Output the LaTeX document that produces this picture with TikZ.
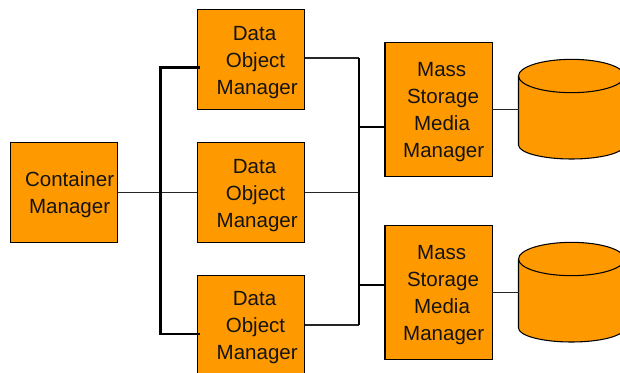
\documentclass[tikz,border=0pt]{standalone}
\usepackage{fontspec}
\setmainfont{Liberation Sans}
\definecolor{boxorange}{HTML}{FF9900}
\newcommand{\domtext}{Data\kern1.5pt\\Object\\\kern2.5pt Manager}
\newcommand{\mstext}{Mass\kern2pt\\Storage\\Media\kern1.5pt\\\kern1pt Manager}
\tikzset{
  box/.style={draw=black,fill=boxorange,line width=0.8pt,inner sep=0pt,outer sep=0pt,minimum width=80.3pt},
  dombox/.style={box,minimum height=74.5pt},
  msbox/.style={box,minimum height=100pt},
  lbl/.style={align=center,inner sep=0pt,font=\fontsize{15.4pt}{20.25pt}\selectfont,text=black!92},
  diskline/.style={draw=black,fill=boxorange,line width=0.8pt},
  thinline/.style={line width=0.8pt,draw=black!85},
  midline/.style={line width=1pt,draw=black!85},
  thickline/.style={line width=1.6pt,draw=black}
}
% #1 = y of the centre of the top ellipse, #2 = y where the sides end
\newcommand{\diskat}[2]{%
  \path[diskline] (518.5,#1) arc[start angle=180,end angle=0,x radius=39.75pt,y radius=12.5pt]
    -- (624.5,#2) arc[start angle=0,end angle=-180,x radius=39.75pt,y radius=10.5pt] -- cycle;
  \draw[diskline,fill=none] (518.5,#1) arc[start angle=180,end angle=360,x radius=39.75pt,y radius=12.5pt];
}
\begin{document}
\begin{tikzpicture}[x=0.75pt,y=-0.75pt]
\useasboundingbox (0,0) rectangle (620,372);
\clip (0,0) rectangle (620,372);
% boxes
\node[dombox] (cm) at (64,192.5) {};
\node[dombox] (d1) at (251,59.5) {};
\node[dombox] (d2) at (251,192.5) {};
\node[dombox] (d3) at (251,325.5) {};
\node[msbox] (m1) at (438.5,109.5) {};
\node[msbox] (m2) at (438.5,292.5) {};
% disks
\diskat{76}{145}
\diskat{259}{328}
\coordinate (c1) at (518.5,109.5);
\coordinate (c2) at (518.5,292.5);
% junctions
\coordinate (leftbus1) at (160.5,67.5);
\coordinate (leftbus3) at (160.5,334);
\coordinate (rightbus1) at (359,58);
\coordinate (rightbus2) at (359,192.5);
\coordinate (rightbus3) at (359,325);
\coordinate (rightm1) at (359,127);
\coordinate (rightm2) at (359,285);
% connectors
\draw[thinline] (cm.east) -- (d2.west);
\draw[thickline] ([shift={(3,8)}]d1.west) -- (leftbus1) -- (leftbus3) -- ([shift={(3,8.5)}]d3.west);
\draw[midline] (d1.east |- rightbus1) -- (rightbus1);
\draw[midline] (d2.east) -- (rightbus2);
\draw[midline] (d3.east |- rightbus3) -- (rightbus3);
\draw[thickline] (rightbus1) -- (rightbus3);
\draw[thickline] (rightm1) -- (m1.west |- rightm1);
\draw[thickline] (rightm2) -- (m2.west |- rightm2);
\draw[thinline] (m1.east) -- (c1);
\draw[thinline] (m2.east) -- (c2);
% labels
\node[lbl] (tcm) at (69.6,194.5) {Container\\Manager};
\node[lbl] (t1) at (255.5,62.5) {\domtext};
\node[lbl] (t2) at (255.5,195.5) {\domtext};
\node[lbl] (t3) at (255.5,327.5) {\domtext};
\node[lbl] (t4) at (443,112) {\mstext};
\node[lbl] (t5) at (443,295) {\mstext};
\end{tikzpicture}
\end{document}
